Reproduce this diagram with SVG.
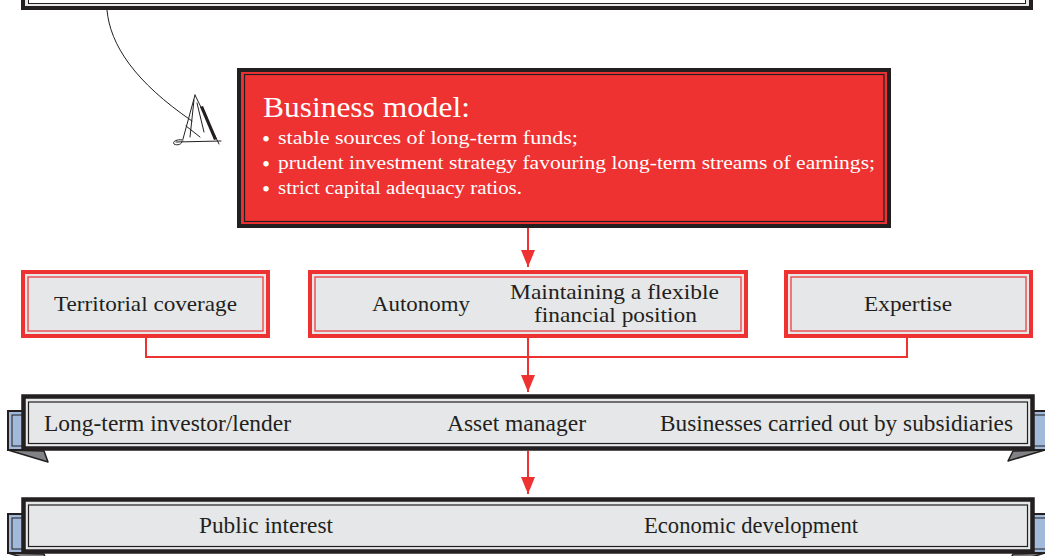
<svg xmlns="http://www.w3.org/2000/svg" width="1045" height="556" viewBox="0 0 1045 556">
<style>
.txt{font-family:"Liberation Serif","Times New Roman",serif;fill:#231f20}
.wt{font-family:"Liberation Serif","Times New Roman",serif;fill:#ffffff}
.blt{font-size:23px}
.redbox{fill:#e6e7e8;stroke:#ee3131;stroke-width:4}
.redin{fill:none;stroke:#ee3131;stroke-width:1.2}
.band{fill:#e6e7e8;stroke:#231f20;stroke-width:4.5}
.bandin{fill:none;stroke:#231f20;stroke-width:1.2}
.tail{fill:#a3b9da;stroke:#231f20;stroke-width:2}
.tailin{fill:none;stroke:#231f20;stroke-width:1}
.fold{fill:#808285;stroke:#231f20;stroke-width:1.5;stroke-linejoin:round}
.conn{fill:none;stroke:#ee3131;stroke-width:2}
.sk{fill:none;stroke:#231f20;stroke-width:1;stroke-linecap:round}
</style>
<defs>
<marker id="ah" markerUnits="userSpaceOnUse" markerWidth="18" markerHeight="14" refX="17" refY="7" orient="auto" viewBox="0 0 18 14">
<path d="M0,0 L17,7 L0,14 Z" fill="#ee3131"/>
</marker>
</defs>

<g id="top-box">
<rect x="23" y="-20" width="1008" height="28" fill="#e6e7e8" stroke="#231f20" stroke-width="4"/>
<rect x="28.5" y="-20" width="997" height="23.5" fill="#ffffff" stroke="#231f20" stroke-width="1"/>
</g>

<g id="sketch">
<path class="sk" d="M107,10 C110,45 135,82 192,121"/>
<path class="sk" d="M195,95 L183,139"/>
<path class="sk" d="M195,95 L219,144"/>
<path class="sk" d="M176,142 L221,141"/>
<path class="sk" d="M183,140 C178,139 172,141 174,144 C177,146 183,144 182,141"/>
<path class="sk" d="M194,100 L190,137"/>
<path class="sk" d="M197,103 L204,132"/>
<path d="M200,107 L203,106 L217,139 L214,140 Z" fill="#231f20"/>
<path class="sk" d="M186,126 L200,137"/>
</g>

<g id="business-model">
<rect x="239" y="70" width="650" height="156" fill="#ee3131" stroke="#231f20" stroke-width="4"/>
<rect x="244.5" y="74.5" width="639.5" height="147" fill="none" stroke="#231f20" stroke-width="1.2"/>
<text class="wt" x="263" y="117" font-size="29" textLength="207" lengthAdjust="spacingAndGlyphs">Business model:</text>
<text class="wt" font-size="19"><tspan class="blt" x="262" y="147">•</tspan><tspan x="278" y="144" textLength="300" lengthAdjust="spacingAndGlyphs">stable sources of long-term funds;</tspan></text>
<text class="wt" font-size="19"><tspan class="blt" x="262" y="172">•</tspan><tspan x="278" y="169" textLength="597" lengthAdjust="spacingAndGlyphs">prudent investment strategy favouring long-term streams of earnings;</tspan></text>
<text class="wt" font-size="19"><tspan class="blt" x="262" y="197">•</tspan><tspan x="278" y="194" textLength="244" lengthAdjust="spacingAndGlyphs">strict capital adequacy ratios.</tspan></text>
</g>

<g id="territorial-coverage">
<rect class="redbox" x="23" y="272" width="245" height="64"/>
<rect class="redin" x="28" y="277" width="235" height="54"/>
<text class="txt" x="54" y="311" font-size="22" textLength="183" lengthAdjust="spacingAndGlyphs">Territorial coverage</text>
</g>

<g id="autonomy">
<rect class="redbox" x="310" y="272" width="436" height="64"/>
<rect class="redin" x="315" y="277" width="426" height="54"/>
<text class="txt" x="372" y="311" font-size="22" textLength="98" lengthAdjust="spacingAndGlyphs">Autonomy</text>
<text class="txt" x="510" y="299" font-size="22" textLength="209" lengthAdjust="spacingAndGlyphs">Maintaining a flexible</text>
<text class="txt" x="534" y="322" font-size="22" textLength="163" lengthAdjust="spacingAndGlyphs">financial position</text>
</g>

<g id="expertise">
<rect class="redbox" x="786" y="272" width="245" height="64"/>
<rect class="redin" x="791" y="277" width="235" height="54"/>
<text class="txt" x="864" y="311" font-size="22" textLength="88" lengthAdjust="spacingAndGlyphs">Expertise</text>
</g>

<g id="roles-banner">
<rect class="tail" x="8" y="411" width="20" height="39"/>
<rect class="tailin" x="12" y="415" width="14" height="31"/>
<rect class="tail" x="1030" y="411" width="20" height="39"/>
<rect class="tailin" x="1033" y="415" width="14" height="31"/>
<polygon class="fold" points="8,450 44,451 48,462"/>
<polygon class="fold" points="1045,450 1013,451 1008,461"/>
<rect class="band" x="23.5" y="396.5" width="1009" height="52"/>
<rect class="bandin" x="28.5" y="402" width="999" height="41.5"/>
<text class="txt" x="44" y="431" font-size="23" textLength="247" lengthAdjust="spacingAndGlyphs">Long-term investor/lender</text>
<text class="txt" x="447" y="431" font-size="23" textLength="139" lengthAdjust="spacingAndGlyphs">Asset manager</text>
<text class="txt" x="660" y="431" font-size="23" textLength="353" lengthAdjust="spacingAndGlyphs">Businesses carried out by subsidiaries</text>
</g>

<g id="mission-banner">
<rect class="tail" x="8" y="514" width="20" height="39"/>
<rect class="tailin" x="12" y="518" width="14" height="31"/>
<rect class="tail" x="1030" y="514" width="20" height="39"/>
<rect class="tailin" x="1033" y="518" width="14" height="31"/>
<polygon class="fold" points="8,553 44,554 48,565"/>
<polygon class="fold" points="1045,553 1013,554 1008,564"/>
<rect class="band" x="23.5" y="499.5" width="1009" height="52"/>
<rect class="bandin" x="28.5" y="505" width="999" height="41.5"/>
<text class="txt" x="199" y="533" font-size="23" textLength="134" lengthAdjust="spacingAndGlyphs">Public interest</text>
<text class="txt" x="644" y="533" font-size="23" textLength="214" lengthAdjust="spacingAndGlyphs">Economic development</text>
</g>

<g id="connectors">
<path class="conn" d="M528,228 L528,267" marker-end="url(#ah)"/>
<path class="conn" d="M146,338 L146,357 L907,357 L907,338"/>
<path class="conn" d="M528,338 L528,392" marker-end="url(#ah)"/>
<path class="conn" d="M528,451 L528,494" marker-end="url(#ah)"/>
</g>
</svg>
